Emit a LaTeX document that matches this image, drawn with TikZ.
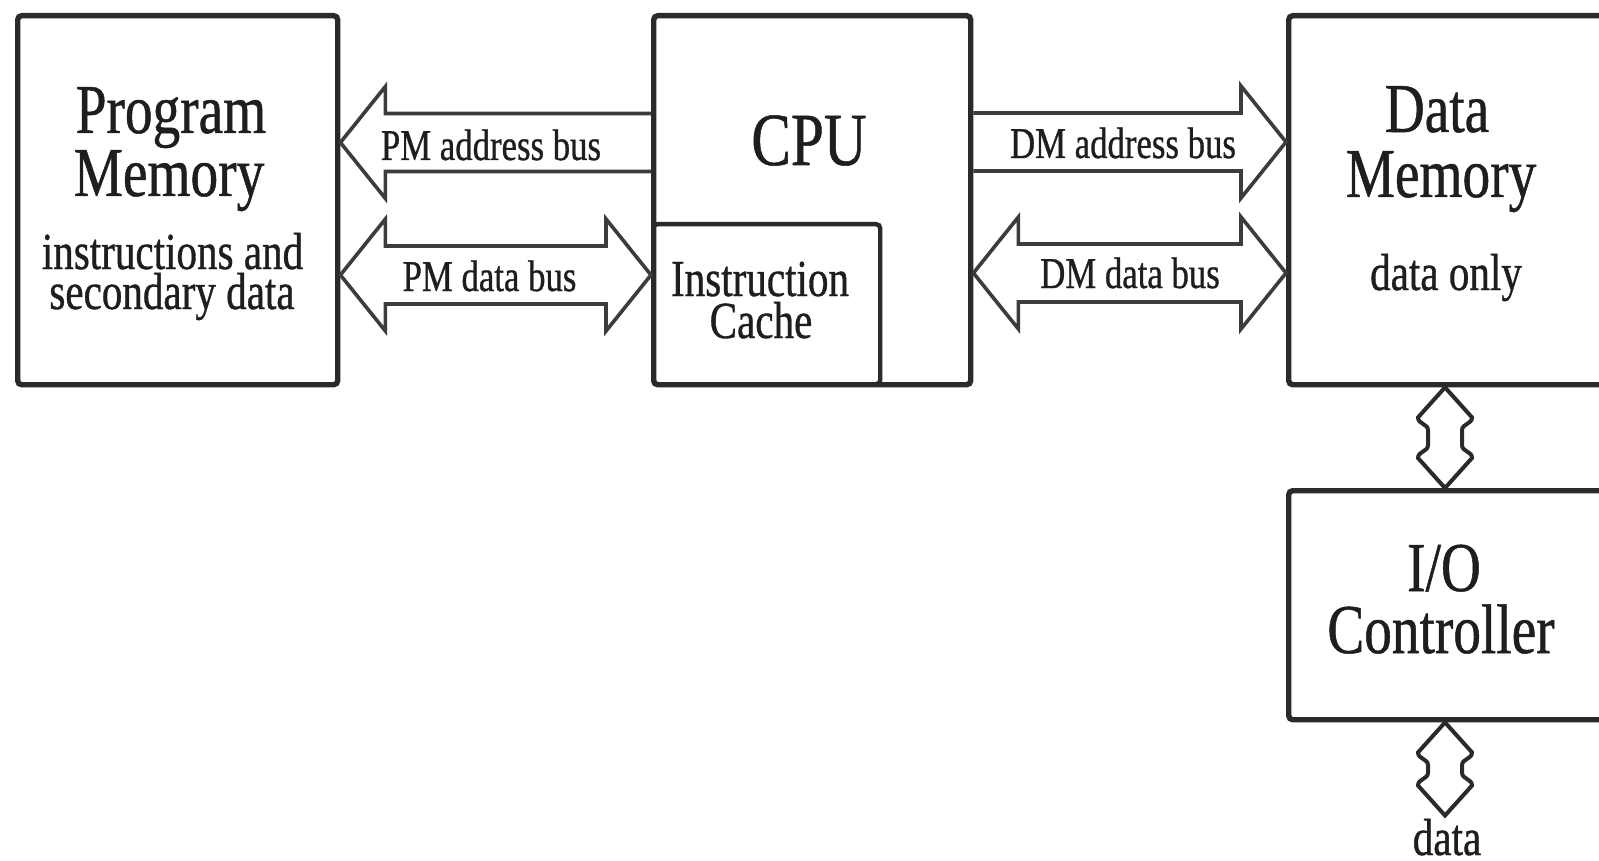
\documentclass[tikz,border=0pt]{standalone}
\usepackage{fontspec}
\setmainfont{Liberation Serif}
\newfontfamily\narrowserif[FakeStretch=0.79,FakeBold=0.7]{Liberation Serif}
\usetikzlibrary{calc}
\definecolor{ink}{HTML}{1E1E1E}
\definecolor{frame}{HTML}{2A2A2A}
\definecolor{wire}{HTML}{3C3C3C}
\tikzset{
  block/.style={draw=frame, line width=2.7pt, rounded corners=2pt, inner sep=0pt, anchor=north west},
  bus/.style={draw=wire, line width=1.8pt, line join=miter, miter limit=12},
  link/.style={draw=frame, line width=2pt, line join=miter, miter limit=12},
  bigtext/.style={font=\narrowserif\fontsize{35pt}{40pt}\selectfont, text=ink, inner sep=0pt, anchor=base},
  cputext/.style={font=\narrowserif\fontsize{37.5pt}{42pt}\selectfont, text=ink, inner sep=0pt, anchor=base},
  smalltext/.style={font=\narrowserif\fontsize{26pt}{30pt}\selectfont, text=ink, inner sep=0pt, anchor=base},
  bustext/.style={font=\narrowserif\fontsize{22pt}{26pt}\selectfont, text=ink, inner sep=0pt, anchor=base}
}
% vertical two-way link with curled barbs, from tip #1 (top) to tip #2 (bottom)
\newcommand\vlink[2]{%
  \draw[link] (#1) -- ($(#1)+(-27,30)$)
    .. controls ($(#1)+(-27,37)$) and ($(#1)+(-17,36)$) .. ($(#1)+(-17,43)$)
    -- ($(#2)+(-17,-43)$)
    .. controls ($(#2)+(-17,-36)$) and ($(#2)+(-27,-37)$) .. ($(#2)+(-27,-30)$)
    -- (#2) -- ($(#2)+(27,-30)$)
    .. controls ($(#2)+(27,-37)$) and ($(#2)+(17,-36)$) .. ($(#2)+(17,-43)$)
    -- ($(#1)+(17,43)$)
    .. controls ($(#1)+(17,36)$) and ($(#1)+(27,37)$) .. ($(#1)+(27,30)$)
    -- cycle;}
% horizontal two-way bus between left tip #1 and right tip #2
\newcommand\hbustwo[2]{%
  \draw[bus] (#1) -- ($(#1)+(45,-56)$) -- ($(#1)+(45,-29)$) -- ($(#2)+(-45,-29)$)
    -- ($(#2)+(-45,-56)$) -- (#2) -- ($(#2)+(-45,56)$) -- ($(#2)+(-45,29)$)
    -- ($(#1)+(45,29)$) -- ($(#1)+(45,56)$) -- cycle;}

\begin{document}
\begin{tikzpicture}[x=0.5pt,y=-0.5pt]
\fill[white] (0,0) rectangle (1599,861);
\useasboundingbox (0,0) rectangle (1599,861);
\clip (0,0) rectangle (1599,861);

% blocks
\node[block, minimum width=160pt, minimum height=184.5pt] (pm) at (15,13) {};
\node[block, minimum width=158.5pt, minimum height=184.5pt] (cpu) at (651,13) {};
\node[block, line width=2.2pt, minimum width=113.5pt, minimum height=80pt] (cache) at (651,222) {};
\node[block, minimum width=169.5pt, minimum height=184.5pt] (dm) at (1286,13) {};
\node[block, minimum width=169.5pt, minimum height=114.5pt] (io) at (1286,488) {};

% block texts
\node[bigtext] (pmA) at (171,133) {Program};
\node[bigtext] (pmB) at (169,196) {Memory};
\node[smalltext] (pmC) at (172.5,269) {instructions and};
\node[smalltext] (pmD) at (172,309) {secondary data};
\node[cputext] (cpuA) at (809,165) {CPU};
\node[smalltext] (icA) at (760,296) {Instruction};
\node[smalltext] (icB) at (761,338) {Cache};
\node[bigtext] (dmA) at (1437,132) {Data};
\node[bigtext] (dmB) at (1441,197) {Memory};
\node[smalltext] (dmC) at (1446,290) {data only};
\node[bigtext] (ioA) at (1444,591) {I/O};
\node[bigtext] (ioB) at (1441,653) {Controller};
\node[smalltext] (ext) at (1447,855) {data};

% bus levels
\coordinate (yPMa) at (0,142.5);
\coordinate (yPMd) at (0,275);
\coordinate (yDMa) at (0,142);
\coordinate (yDMd) at (0,273);
\coordinate (xIO) at (1445,0);

% PM address bus: CPU -> program memory
\coordinate (pa-tail) at (cpu.west |- yPMa);
\coordinate (pa-tip) at (pm.east |- yPMa);
\draw[bus] ($(pa-tail)+(0,-29)$) -- ($(pa-tip)+(45,-29)$) -- ($(pa-tip)+(45,-56)$)
  -- (pa-tip) -- ($(pa-tip)+(45,56)$) -- ($(pa-tip)+(45,29)$) -- ($(pa-tail)+(0,29)$);

% PM data bus
\coordinate (pd-l) at (pm.east |- yPMd);
\coordinate (pd-r) at (cpu.west |- yPMd);
\hbustwo{pd-l}{pd-r}

% DM address bus: CPU -> data memory
\coordinate (da-tail) at (cpu.east |- yDMa);
\coordinate (da-tip) at (dm.west |- yDMa);
\draw[bus] ($(da-tail)+(0,-29)$) -- ($(da-tip)+(-45,-29)$) -- ($(da-tip)+(-45,-56)$)
  -- (da-tip) -- ($(da-tip)+(-45,56)$) -- ($(da-tip)+(-45,29)$) -- ($(da-tail)+(0,29)$);

% DM data bus
\coordinate (dd-l) at (cpu.east |- yDMd);
\coordinate (dd-r) at (dm.west |- yDMd);
\hbustwo{dd-l}{dd-r}

% bus labels
\node[bustext] (paL) at (491,160) {PM address bus};
\node[bustext] (pdL) at (489.5,291) {PM data bus};
\node[bustext] (daL) at (1123,158) {DM address bus};
\node[bustext] (ddL) at (1130,288) {DM data bus};

% data memory <-> I/O controller <-> outside
\coordinate (v1t) at (dm.south -| xIO);
\coordinate (v1b) at (io.north -| xIO);
\vlink{v1t}{v1b}
\coordinate (v2t) at (io.south -| xIO);
\coordinate (v2b) at ($(ext.north -| xIO)+(0,-3)$);
\vlink{v2t}{v2b}
\end{tikzpicture}
\end{document}
